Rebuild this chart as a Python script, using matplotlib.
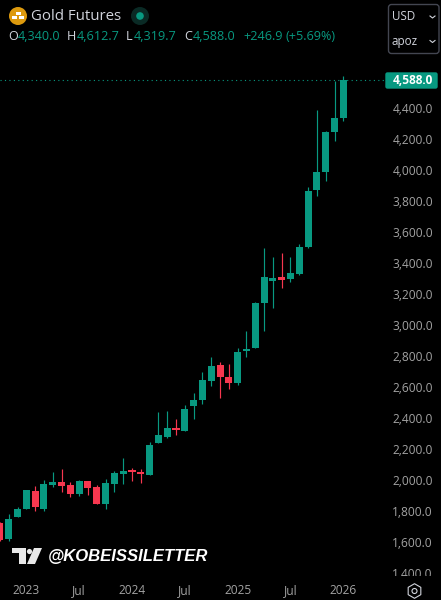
import matplotlib
matplotlib.use("Agg")
import matplotlib.pyplot as plt
from matplotlib.patches import Circle, FancyBboxPatch, Polygon, Rectangle, RegularPolygon
from matplotlib.transforms import Bbox, ScaledTranslation

months = ["Oct22","Nov22","Dec22",
          "Jan23","Feb23","Mar23","Apr23","May23","Jun23","Jul23","Aug23","Sep23","Oct23","Nov23","Dec23",
          "Jan24","Feb24","Mar24","Apr24","May24","Jun24","Jul24","Aug24","Sep24","Oct24","Nov24","Dec24",
          "Jan25","Feb25","Mar25","Apr25","May25","Jun25","Jul25","Aug25","Sep25","Oct25","Nov25","Dec25",
          "Jan26"]
opens = [1727,1626,1770,
         1821,1935,1819,1976,1993,1974,1916,2000,1961,1852,1981,2045,
         2066,2052,2039,2245,2284,2342,2323,2484,2523,2645,2748,2671,
         2632,2839,2858,3148,3290,3316,3303,3335,3510,3877,3994,4252,
         4340.0]
highs = [1735,1787,1830,
         1945,1968,2006,2058,2077,1993,2004,2000,1974,2013,2064,2150,
         2086,2077,2252,2445,2452,2400,2490,2568,2703,2800,2768,2755,
         2858,2968,3155,3503,3445,3471,3445,3529,3897,4394,4258,4581,
         4612.7]
lows = [1613,1615,1770,
        1821,1808,1808,1963,1929,1897,1903,1910,1852,1819,1929,1981,
        2000,1987,2039,2245,2277,2297,2323,2400,2497,2613,2535,2594,
        2619,2800,2858,2968,3116,3245,3284,3329,3503,3839,3935,4194,
        4319.7]
closes = [1619,1755,1819,
          1942,1830,1981,1993,1968,1916,2000,1955,1852,1987,2052,2064,
          2060,2047,2232,2297,2342,2329,2465,2523,2652,2742,2671,2632,
          2832,2845,3148,3316,3310,3297,3342,3510,3871,3994,4252,4342,
          4588.0]
price_ticks = [1400,1600,1800,2000,2200,2400,2600,2800,3000,3200,3400,3600,3800,4000,4200,4400]
time_ticks = {"Jan23":"2023","Jul23":"Jul","Jan24":"2024","Jul24":"Jul","Jan25":"2025","Jul25":"Jul","Jan26":"2026"}
last_price = 4588.0

TEAL = "#089981"; RED = "#f7374f"; GREY = "#a3a3a3"; LIGHT = "#d1d4dc"
FONT = ["Open Sans", "DejaVu Sans"]
W, H = 441, 600
fig = plt.figure(figsize=(W/100, H/100), dpi=100, facecolor="black")
ax = fig.add_axes([0, 24/H, 384/W, 576/H], facecolor="black")
ax.set_xlim(0.011, 43.62)
ax.set_ylim(1387.1, 5103.2)
for s in ax.spines.values():
    s.set_visible(False)

for i, (o, h, l, c) in enumerate(zip(opens, highs, lows, closes)):
    col = TEAL if c >= o else RED
    ax.plot([i, i], [l, h], color=col, lw=0.85, solid_capstyle="butt", zorder=2)
    top, bot = max(o, c), min(o, c)
    ax.add_patch(Rectangle((i-0.4, bot), 0.8, max(top-bot, 13), facecolor=col, edgecolor="none", zorder=3))

ax.axhline(last_price, color=TEAL, lw=0.8, ls=(0, (1, 3)), zorder=1)

ax.yaxis.tick_right()
ax.set_yticks(price_ticks)
ax.set_yticklabels([f"{p:,.1f}" for p in price_ticks], fontsize=8.6, color=GREY, family=FONT, va="center_baseline")
ax.tick_params(axis="y", length=0, pad=6)
clip = Bbox([[0, 24], [W, H]])
shift = ScaledTranslation(0, 1/100, fig.dpi_scale_trans)
for lab in ax.get_yticklabels():
    lab.set_clip_box(clip)
    lab.set_clip_on(True)
    lab.set_transform(lab.get_transform() + shift)
pos = [months.index(m) for m in time_ticks]
ax.set_xticks(pos)
ax.set_xticklabels(list(time_ticks.values()), fontsize=8.6, color=GREY, family=FONT)
ax.tick_params(axis="x", length=0, pad=6)

ov = fig.add_axes([0, 0, 1, 1], facecolor="none")
ov.set_xlim(0, W); ov.set_ylim(H, 0); ov.axis("off")

# last price tag
ov.add_patch(FancyBboxPatch((386, 73), 51, 15, boxstyle="round,pad=0,rounding_size=1.5", fc=TEAL, ec=TEAL, lw=1))
ov.text(433.5, 80, f"{last_price:,.1f}", color="white", fontsize=8.6, fontweight="bold", family=FONT, ha="right", va="center")

# header
ov.add_patch(Circle((18, 16), 9, fc="#dd9a0e", ec="none"))
ov.add_patch(Rectangle((15.5, 11.5), 5, 3, fc="white", ec="none"))
ov.add_patch(Rectangle((12, 16), 5, 3, fc="white", ec="none"))
ov.add_patch(Rectangle((18.5, 16), 5.5, 3, fc="white", ec="none"))
ov.text(31, 16, "Gold Futures", color=LIGHT, fontsize=10.8, family=FONT, va="center")
ov.add_patch(Circle((140, 16), 9, fc="#0a2a25", ec="none"))
ov.add_patch(Circle((140, 16), 3.8, fc=TEAL, ec="none"))
row = [(8, "O", LIGHT), (18, "4,340.0", TEAL), (67, "H", LIGHT), (77, "4,612.7", TEAL),
       (126, "L", LIGHT), (133.5, "4,319.7", TEAL), (184, "C", LIGHT), (193, "4,588.0", TEAL),
       (243, "+246.9", TEAL), (286, "(+5.69%)", TEAL)]
for x, s, c in row:
    ov.text(x, 36, s, color=c, fontsize=9.1, family=FONT, va="center")

# currency / unit box
ov.add_patch(FancyBboxPatch((388.5, 4.5), 50.5, 49, boxstyle="round,pad=0,rounding_size=3", fc="black", ec="#434651", lw=1))
ov.text(392, 16, "USD", color=LIGHT, fontsize=8.4, family=FONT, va="center")
ov.text(392, 41, "apoz", color=LIGHT, fontsize=8.4, family=FONT, va="center")
for yc in (17, 41.5):
    ov.plot([430, 432.5, 435], [yc-1, yc+1, yc-1], color=LIGHT, lw=0.8)

# watermark
ov.add_patch(Rectangle((12, 548), 14, 5, fc="#e8e8e8", ec="none"))
ov.add_patch(Rectangle((18.5, 548), 7.5, 16, fc="#e8e8e8", ec="none"))
ov.add_patch(Circle((29.5, 551.5), 2.6, fc="#e8e8e8", ec="none"))
ov.add_patch(Polygon([[34, 548], [42, 548], [35, 564], [27, 564]], fc="#e8e8e8", ec="none"))
ov.text(47.5, 557, "@KOBEISSILETTER", color="white", fontsize=12.0, fontweight="bold", style="italic", family=["Liberation Sans", "DejaVu Sans"], va="center")

# settings icon
ov.add_patch(RegularPolygon((414.5, 591), 6, radius=7.3, orientation=0, fc="none", ec=LIGHT, lw=0.8))
ov.add_patch(Circle((414.5, 591), 2.5, fc="none", ec=LIGHT, lw=0.8))

fig.savefig("out.png", dpi=100, facecolor="black")
